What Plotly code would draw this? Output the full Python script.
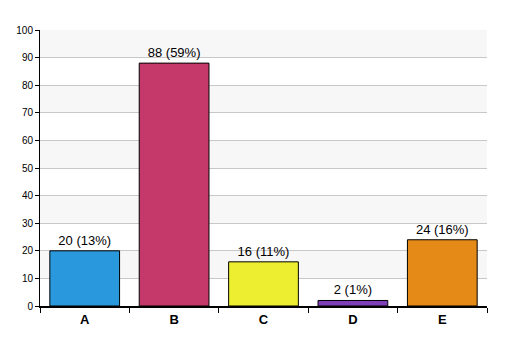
import plotly.graph_objects as go

categories = ["A", "B", "C", "D", "E"]
values = [20, 88, 16, 2, 24]
percents = [13, 59, 11, 1, 16]
colors = ["#2a98dc", "#c4396a", "#eeee30", "#7e3fb8", "#e68a17"]

labels = [f"{v} ({p}%)" for v, p in zip(values, percents)]

fig = go.Figure()
fig.add_trace(go.Bar(
    x=categories, y=values, text=labels, textposition="outside",
    textfont=dict(family="Liberation Sans, Arial", size=13, color="#000"),
    marker=dict(color=colors, line=dict(color="#000", width=1)),
    cliponaxis=False, width=0.78,
))

shapes = []
for lo in range(10, 100, 20):
    shapes.append(dict(type="rect", xref="paper", yref="y", x0=0, x1=1, y0=lo, y1=lo + 10,
                       fillcolor="#f7f7f7", line=dict(width=0), layer="below"))
# page body has an 8px margin, so the figure is sized to fit the 507x356 window
fig.update_layout(
    width=499, height=348,
    margin=dict(l=32, r=20, t=22, b=50),
    plot_bgcolor="#ffffff", paper_bgcolor="#ffffff",
    showlegend=False, shapes=shapes,
    xaxis=dict(type="category", tickson="boundaries", ticks="outside", ticklen=5,
               tickcolor="#000", showline=True, linecolor="#000", linewidth=2,
               showgrid=False, range=[-0.5, 4.5], automargin=False,
               tickfont=dict(family="Liberation Sans, Arial", size=13, color="#000", weight="bold")),
    yaxis=dict(range=[0, 100], dtick=10, ticks="outside", ticklen=4, tickcolor="#000",
               showline=True, linecolor="#000", linewidth=1, automargin=False,
               showgrid=True, gridcolor="#c8c8c8", gridwidth=1, zeroline=False,
               tickfont=dict(family="Liberation Sans, Arial", size=10, color="#000")),
    font=dict(family="Liberation Sans, Arial"),
)
fig.write_html("out.html")
